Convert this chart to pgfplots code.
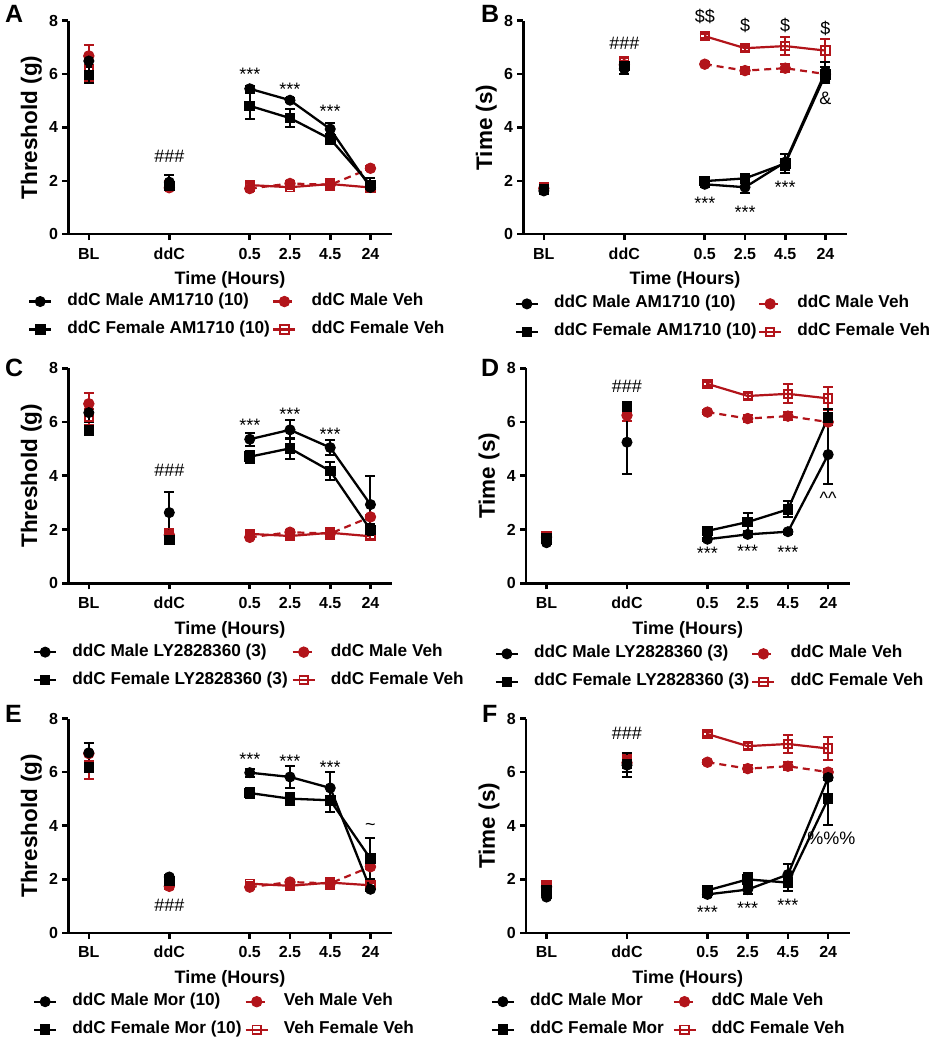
\documentclass[border=0pt]{standalone}
\usepackage{pgfplots}
\pgfplotsset{compat=1.18}
\usepackage{fontspec}
\setmainfont{Liberation Sans}
\definecolor{vred}{RGB}{178,20,26}
\newcommand{\tickf}{\fontsize{16pt}{16pt}\selectfont\bfseries}
\newcommand{\legf}{\fontsize{17.2pt}{17.2pt}\selectfont\bfseries}
\newcommand{\xlabf}{\fontsize{18pt}{18pt}\selectfont\bfseries}
\newcommand{\ylabf}{\fontsize{22.5pt}{22.5pt}\selectfont\bfseries}
\newcommand{\letf}{\fontsize{25pt}{25pt}\selectfont\bfseries}
\newcommand{\annf}{\fontsize{18pt}{18pt}\selectfont}
\newcommand{\lb}[2]{\makebox[#1][l]{#2}}
\tikzset{
  mdrug/.style={black, line width=2.3pt, solid, mark=*, mark size=5pt, mark options={solid, fill=black, line width=1pt}},
  fdrug/.style={black, line width=2.3pt, solid, mark=square*, mark size=4.8pt, mark options={solid, fill=black, line width=1pt}},
  mveh/.style={vred, line width=2.2pt, dash pattern=on 7pt off 5pt, mark=*, mark size=5.2pt, mark options={solid, fill=vred, line width=1pt}},
  fveh/.style={vred, line width=2.2pt, solid, mark=square, mark size=4.2pt, mark options={solid, fill=white, line width=1.8pt}},
  ann/.style={font=\annf, inner sep=0pt, anchor=center},
  star/.style={font=\annf, inner sep=0pt, anchor=center, yshift=-3.8pt},
}
\pgfplotsset{
  eb/.style={forget plot, error bars/y dir=both, error bars/y explicit,
    error bars/error bar style={line width=2pt, solid},
    error bars/error mark options={rotate=90, mark size=5pt, line width=2pt, solid}},
  panel/.style={
    scale only axis, width=323.5pt,
    xmin=-0.51, xmax=7.53, ymin=0, ymax=8,
    axis x line*=bottom, axis y line*=left,
    axis line style={line width=2.6pt},
    xtick={0,2,4,5,6,7}, xticklabels={BL,ddC,0.5,2.5,4.5,24},
    ytick={0,2,4,6,8},
    tick align=outside, major tick length=6pt,
    every tick/.style={black, line width=2.6pt},
    tick label style={font=\tickf},
    xticklabel style={anchor=base, inner sep=0pt, yshift=-19pt},
    yticklabel style={anchor=east, inner sep=0pt, xshift=-4pt},
    /pgf/number format/assume math mode=true,
    clip=false,
    unbounded coords=jump,
    legend columns=2,
    legend cell align=left,
    legend style={draw=none, fill=none, inner sep=0pt, outer sep=0pt, font=\legf, row sep=12pt, anchor=north west,
      nodes={inner sep=0pt, text height=12pt, text depth=4pt},
      /tikz/every odd column/.append style={column sep=15pt},
      /tikz/every even column/.append style={column sep=0pt}},
    legend image code/.code={\draw[mark repeat=2,mark phase=2,##1] plot coordinates {(0pt,0pt) (11pt,0pt) (22pt,0pt)};},
    xlabel={Time (Hours)},
    xlabel style={font=\xlabf, at={(axis description cs:0.5,-0.215)}, anchor=center},
    ylabel style={font=\ylabf, at={(axis description cs:-0.114,0.5)}, anchor=center},
  }
}
\begin{document}
\begin{tikzpicture}
\path[use as bounding box] (0,0) rectangle (935pt,1041pt);
\node[anchor=base west, inner sep=0pt, font=\letf] at (5pt,1018pt) {A};
\node[anchor=base west, inner sep=0pt, font=\letf] at (481pt,1018pt) {B};
\node[anchor=base west, inner sep=0pt, font=\letf] at (5pt,664.3pt) {C};
\node[anchor=base west, inner sep=0pt, font=\letf] at (481pt,664.3pt) {D};
\node[anchor=base west, inner sep=0pt, font=\letf] at (5pt,318pt) {E};
\node[anchor=base west, inner sep=0pt, font=\letf] at (482pt,318pt) {F};

% ---------------- A ----------------
\begin{axis}[panel, at={(68.3pt,806.8pt)}, anchor=south west, height=213.5pt, ylabel={Threshold (g)},
  legend style={at={(axis description cs:-0.1244,-0.278)}}]
\addplot[mveh, eb] table[x=x, y=y, y error=e] {
x y e
0 6.68 0.4
1 nan nan
2 1.74 0.1
3 nan nan
4 1.71 0.08
5 1.90 0.08
6 1.85 0.2
7 2.47 0.08
};
\addplot[fveh, eb] table[x=x, y=y, y error=e] {
x y e
0 6.20 0.45
1 nan nan
2 1.85 0.1
3 nan nan
4 1.84 0.08
5 1.76 0.08
6 1.88 0.15
7 1.75 0.1
};
\addplot[mdrug, eb] table[x=x, y=y, y error=e] {
x y e
0 6.49 0.2
1 nan nan
2 1.95 0.25
3 nan nan
4 5.45 0.1
5 5.02 0.08
6 3.94 0.22
7 1.75 0.15
};
\addplot[fdrug, eb] table[x=x, y=y, y error=e] {
x y e
0 5.97 0.3
1 nan nan
2 1.80 0.1
3 nan nan
4 4.81 0.48
5 4.35 0.35
6 3.57 0.2
7 1.85 0.25
};
\addlegendimage{mdrug}\addlegendentry{\lb{205pt}{ddC Male AM1710 (10)}}
\addlegendimage{mveh}\addlegendentry{ddC Male Veh}
\addlegendimage{fdrug}\addlegendentry{\lb{205pt}{ddC Female AM1710 (10)}}
\addlegendimage{fveh}\addlegendentry{ddC Female Veh}
\node[star] at (axis cs:4,6.12) {***};
\node[star] at (axis cs:5,5.58) {***};
\node[star] at (axis cs:6,4.73) {***};
\node[ann] at (axis cs:2,2.92) {\#\#\#};
\end{axis}

% ---------------- B ----------------
\begin{axis}[panel, at={(523.3pt,806.8pt)}, anchor=south west, height=213.5pt, ylabel={Time (s)},
  legend style={at={(axis description cs:-0.0264,-0.289)}}]
\addplot[mveh, eb] table[x=x, y=y, y error=e] {
x y e
0 1.72 0.08
1 nan nan
2 6.35 0.15
3 nan nan
4 6.37 0.08
5 6.13 0.12
6 6.22 0.15
7 6.00 0.1
};
\addplot[fveh, eb] table[x=x, y=y, y error=e] {
x y e
0 1.75 0.08
1 nan nan
2 6.45 0.2
3 nan nan
4 7.42 0.08
5 6.97 0.1
6 7.05 0.35
7 6.88 0.43
};
\addplot[mdrug, eb] table[x=x, y=y, y error=e] {
x y e
0 1.62 0.06
1 nan nan
2 6.20 0.2
3 nan nan
4 1.87 0.1
5 1.76 0.2
6 2.70 0.3
7 6.09 0.35
};
\addplot[fdrug, eb] table[x=x, y=y, y error=e] {
x y e
0 1.68 0.06
1 nan nan
2 6.30 0.15
3 nan nan
4 1.99 0.1
5 2.09 0.1
6 2.65 0.35
7 5.98 0.3
};
\addlegendimage{mdrug}\addlegendentry{\lb{204pt}{ddC Male AM1710 (10)}}
\addlegendimage{mveh}\addlegendentry{ddC Male Veh}
\addlegendimage{fdrug}\addlegendentry{\lb{204pt}{ddC Female AM1710 (10)}}
\addlegendimage{fveh}\addlegendentry{ddC Female Veh}
\node[ann] at (axis cs:4,8.15) {\$\$};
\node[ann] at (axis cs:5,7.84) {\$};
\node[ann] at (axis cs:6,7.84) {\$};
\node[ann] at (axis cs:7,7.72) {\$};
\node[ann] at (axis cs:7,5.09) {\&};
\node[star] at (axis cs:4,1.30) {***};
\node[star] at (axis cs:5,0.96) {***};
\node[star] at (axis cs:6,1.89) {***};
\node[ann] at (axis cs:2,7.15) {\#\#\#};
\end{axis}

% ---------------- C ----------------
\begin{axis}[panel, at={(68.3pt,457.7pt)}, anchor=south west, height=215pt, ylabel={Threshold (g)},
  legend style={at={(axis description cs:-0.109,-0.283)}}]
\addplot[mveh, eb] table[x=x, y=y, y error=e] {
x y e
0 6.68 0.4
1 nan nan
2 1.80 0.1
3 nan nan
4 1.71 0.08
5 1.90 0.08
6 1.85 0.2
7 2.47 0.08
};
\addplot[fveh, eb] table[x=x, y=y, y error=e] {
x y e
0 6.20 0.3
1 nan nan
2 1.88 0.1
3 nan nan
4 1.84 0.08
5 1.76 0.08
6 1.88 0.15
7 1.75 0.1
};
\addplot[mdrug, eb] table[x=x, y=y, y error=e] {
x y e
0 6.35 0.35
1 nan nan
2 2.63 0.76
3 nan nan
4 5.36 0.25
5 5.71 0.35
6 5.05 0.28
7 2.93 1.07
};
\addplot[fdrug, eb] table[x=x, y=y, y error=e] {
x y e
0 5.68 0.1
1 nan nan
2 1.61 0.08
3 nan nan
4 4.71 0.22
5 5.02 0.4
6 4.18 0.35
7 1.99 0.2
};
\addlegendimage{mdrug}\addlegendentry{\lb{219.3pt}{ddC Male LY2828360 (3)}}
\addlegendimage{mveh}\addlegendentry{ddC Male Veh}
\addlegendimage{fdrug}\addlegendentry{\lb{219.3pt}{ddC Female LY2828360 (3)}}
\addlegendimage{fveh}\addlegendentry{ddC Female Veh}
\node[star] at (axis cs:4,6.02) {***};
\node[star] at (axis cs:5,6.43) {***};
\node[star] at (axis cs:6,5.67) {***};
\node[ann] at (axis cs:2,4.22) {\#\#\#};
\end{axis}

% ---------------- D ----------------
\begin{axis}[panel, at={(526pt,457.7pt)}, anchor=south west, height=215pt, ylabel={Time (s)},
  legend style={at={(axis description cs:-0.0966,-0.291)}}]
\addplot[mveh, eb] table[x=x, y=y, y error=e] {
x y e
0 1.72 0.08
1 nan nan
2 6.25 0.2
3 nan nan
4 6.37 0.08
5 6.13 0.12
6 6.22 0.15
7 6.00 0.1
};
\addplot[fveh, eb] table[x=x, y=y, y error=e] {
x y e
0 1.75 0.08
1 nan nan
2 6.40 0.2
3 nan nan
4 7.42 0.08
5 6.97 0.1
6 7.05 0.35
7 6.88 0.43
};
\addplot[mdrug, eb] table[x=x, y=y, y error=e] {
x y e
0 1.51 0.05
1 nan nan
2 5.25 1.17
3 nan nan
4 1.64 0.05
5 1.82 0.08
6 1.92 0.08
7 4.79 1.1
};
\addplot[fdrug, eb] table[x=x, y=y, y error=e] {
x y e
0 1.67 0.05
1 nan nan
2 6.58 0.1
3 nan nan
4 1.95 0.1
5 2.28 0.35
6 2.75 0.3
7 6.18 0.3
};
\addlegendimage{mdrug}\addlegendentry{\lb{217.3pt}{ddC Male LY2828360 (3)}}
\addlegendimage{mveh}\addlegendentry{ddC Male Veh}
\addlegendimage{fdrug}\addlegendentry{\lb{217.3pt}{ddC Female LY2828360 (3)}}
\addlegendimage{fveh}\addlegendentry{ddC Female Veh}
\node[star] at (axis cs:4,1.27) {***};
\node[star] at (axis cs:5,1.34) {***};
\node[star] at (axis cs:6,1.30) {***};
\node[ann] at (axis cs:2,7.34) {\#\#\#};
\node[ann, yshift=-3.5pt] at (axis cs:7,3.29) {\textasciicircum\textasciicircum};
\end{axis}

% ---------------- E ----------------
\begin{axis}[panel, at={(68.3pt,108pt)}, anchor=south west, height=214.5pt, ylabel={Threshold (g)},
  legend style={at={(axis description cs:-0.109,-0.283)}}]
\addplot[mveh, eb] table[x=x, y=y, y error=e] {
x y e
0 6.69 0.4
1 nan nan
2 1.74 0.1
3 nan nan
4 1.71 0.08
5 1.90 0.08
6 1.85 0.2
7 2.47 0.08
};
\addplot[fveh, eb] table[x=x, y=y, y error=e] {
x y e
0 6.26 0.5
1 nan nan
2 1.85 0.1
3 nan nan
4 1.84 0.08
5 1.76 0.08
6 1.88 0.15
7 1.78 0.1
};
\addplot[mdrug, eb] table[x=x, y=y, y error=e] {
x y e
0 6.72 0.35
1 nan nan
2 2.09 0.08
3 nan nan
4 5.98 0.15
5 5.82 0.42
6 5.41 0.58
7 1.63 0.05
};
\addplot[fdrug, eb] table[x=x, y=y, y error=e] {
x y e
0 6.19 0.2
1 nan nan
2 1.94 0.1
3 nan nan
4 5.22 0.18
5 5.01 0.22
6 4.95 0.45
7 2.77 0.77
};
\addlegendimage{mdrug}\addlegendentry{\lb{172.3pt}{ddC Male Mor (10)}}
\addlegendimage{mveh}\addlegendentry{Veh Male Veh}
\addlegendimage{fdrug}\addlegendentry{\lb{172.3pt}{ddC Female Mor (10)}}
\addlegendimage{fveh}\addlegendentry{Veh Female Veh}
\node[star] at (axis cs:4,6.62) {***};
\node[star] at (axis cs:5,6.53) {***};
\node[star] at (axis cs:6,6.32) {***};
\node[ann] at (axis cs:7,3.96) {\textasciitilde};
\node[ann] at (axis cs:2,1.03) {\#\#\#};
\end{axis}

% ---------------- F ----------------
\begin{axis}[panel, at={(526pt,108pt)}, anchor=south west, height=214.5pt, ylabel={Time (s)},
  legend style={at={(axis description cs:-0.109,-0.283)}}]
\addplot[mveh, eb] table[x=x, y=y, y error=e] {
x y e
0 1.72 0.08
1 nan nan
2 6.35 0.2
3 nan nan
4 6.37 0.08
5 6.13 0.12
6 6.22 0.15
7 6.00 0.1
};
\addplot[fveh, eb] table[x=x, y=y, y error=e] {
x y e
0 1.78 0.08
1 nan nan
2 6.45 0.2
3 nan nan
4 7.42 0.08
5 6.97 0.1
6 7.05 0.35
7 6.88 0.43
};
\addplot[mdrug, eb] table[x=x, y=y, y error=e] {
x y e
0 1.34 0.05
1 nan nan
2 6.26 0.45
3 nan nan
4 1.44 0.1
5 1.62 0.15
6 2.18 0.4
7 5.80 0.1
};
\addplot[fdrug, eb] table[x=x, y=y, y error=e] {
x y e
0 1.59 0.08
1 nan nan
2 6.30 0.3
3 nan nan
4 1.59 0.1
5 2.00 0.25
6 1.88 0.3
7 5.01 0.98
};
\addlegendimage{mdrug}\addlegendentry{\lb{142.4pt}{ddC Male Mor}}
\addlegendimage{mveh}\addlegendentry{ddC Male Veh}
\addlegendimage{fdrug}\addlegendentry{\lb{142.4pt}{ddC Female Mor}}
\addlegendimage{fveh}\addlegendentry{ddC Female Veh}
\node[star] at (axis cs:4,0.91) {***};
\node[star] at (axis cs:5,1.06) {***};
\node[star] at (axis cs:6,1.19) {***};
\node[ann] at (axis cs:2,7.44) {\#\#\#};
\node[ann] at (axis cs:7.08,3.52) {\%\%\%};
\end{axis}
\end{tikzpicture}
\end{document}
